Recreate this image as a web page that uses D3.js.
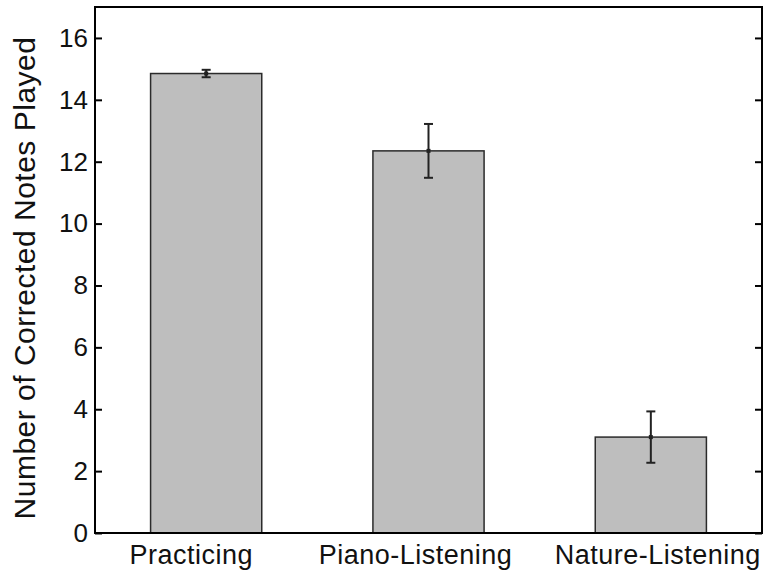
<!DOCTYPE html>
<html>
<head>
<meta charset="utf-8">
<script src="https://cdn.jsdelivr.net/npm/d3@7"></script>
<style>
  body { margin: 0; background: #fff; }
  text { font-family: "Liberation Sans", Arial, sans-serif; }
</style>
</head>
<body>
<div id="chart"></div>
<script>
// values
const categories = ['Practicing', 'Piano-Listening', 'Nature-Listening'];
const means = [14.85, 12.35, 3.1];
const errors = [0.12, 0.87, 0.83];
const yTicks = [0, 2, 4, 6, 8, 10, 12, 14, 16];

const width = 767, height = 575;
const margin = { top: 7, right: 5, bottom: 42, left: 95 };
// the exported figure draws its category labels a little off centre
const labelDx = [-15, -13, 7];

const svg = d3.select('#chart').append('svg')
  .attr('width', width)
  .attr('height', height);

const x = d3.scaleLinear()
  .domain([0.5, 3.5])
  .range([margin.left, width - margin.right]);

const y = d3.scaleLinear()
  .domain([0, 17])
  .range([height - margin.bottom, margin.top]);

const barW = x(1.5) - x(1);

// bars
svg.selectAll('.bar')
  .data(means)
  .enter()
  .append('rect')
  .attr('class', 'bar')
  .attr('x', (d, i) => x(i + 1) - barW / 2)
  .attr('y', d => y(d))
  .attr('width', barW)
  .attr('height', d => y(0) - y(d))
  .attr('fill', '#bebebe')
  .attr('stroke', '#2b2b2b')
  .attr('stroke-width', 1.5);

// baseline at zero
svg.append('line')
  .attr('x1', x(0.5)).attr('x2', x(3.5))
  .attr('y1', y(0)).attr('y2', y(0))
  .attr('stroke', '#000')
  .attr('stroke-width', 1.5);

// error bars
const eb = svg.selectAll('.err')
  .data(means)
  .enter()
  .append('g')
  .attr('class', 'err')
  .attr('stroke', '#222')
  .attr('stroke-width', 2);

eb.append('line')
  .attr('x1', (d, i) => x(i + 1)).attr('x2', (d, i) => x(i + 1))
  .attr('y1', (d, i) => y(d + errors[i]))
  .attr('y2', (d, i) => y(d - errors[i]));

[1, -1].forEach(s => {
  eb.append('line')
    .attr('x1', (d, i) => x(i + 1) - 4.5).attr('x2', (d, i) => x(i + 1) + 4.5)
    .attr('y1', (d, i) => y(d + s * errors[i]))
    .attr('y2', (d, i) => y(d + s * errors[i]));
});

eb.append('rect')
  .attr('x', (d, i) => x(i + 1) - 2)
  .attr('y', d => y(d) - 2)
  .attr('width', 4)
  .attr('height', 4)
  .attr('fill', '#222')
  .attr('stroke', 'none');

// axes (MATLAB box style, ticks inward)
const yLeft = d3.axisLeft(y).tickValues(yTicks).tickSizeInner(-7).tickSizeOuter(0).tickPadding(7);
const gy = svg.append('g')
  .attr('transform', `translate(${margin.left},0)`)
  .call(yLeft);
gy.select('.domain').remove();
gy.selectAll('line').attr('stroke', '#000').attr('stroke-width', 2);
gy.selectAll('text')
  .attr('font-size', 26)
  .attr('fill', '#111')
  .attr('font-family', '"Liberation Sans", Arial, sans-serif');

const yRight = d3.axisRight(y).tickValues(yTicks).tickSizeInner(-7).tickSizeOuter(0).tickFormat('');
const gyr = svg.append('g')
  .attr('transform', `translate(${width - margin.right},0)`)
  .call(yRight);
gyr.select('.domain').remove();
gyr.selectAll('line').attr('stroke', '#000').attr('stroke-width', 2);

// category labels
svg.selectAll('.cat')
  .data(categories)
  .enter()
  .append('text')
  .attr('class', 'cat')
  .attr('x', (d, i) => x(i + 1) + labelDx[i])
  .attr('y', 564)
  .attr('text-anchor', 'middle')
  .attr('font-size', 27)
  .attr('letter-spacing', 0.5)
  .attr('fill', '#111')
  .text(d => d);

// frame
svg.append('rect')
  .attr('x', margin.left)
  .attr('y', margin.top)
  .attr('width', width - margin.left - margin.right)
  .attr('height', height - margin.top - margin.bottom)
  .attr('fill', 'none')
  .attr('stroke', '#000')
  .attr('stroke-width', 2);

// y label
svg.append('text')
  .attr('transform', 'translate(35,278) rotate(-90)')
  .attr('text-anchor', 'middle')
  .attr('font-size', 30)
  .attr('letter-spacing', 0.5)
  .attr('fill', '#111')
  .text('Number of Corrected Notes Played');
</script>
</body>
</html>
